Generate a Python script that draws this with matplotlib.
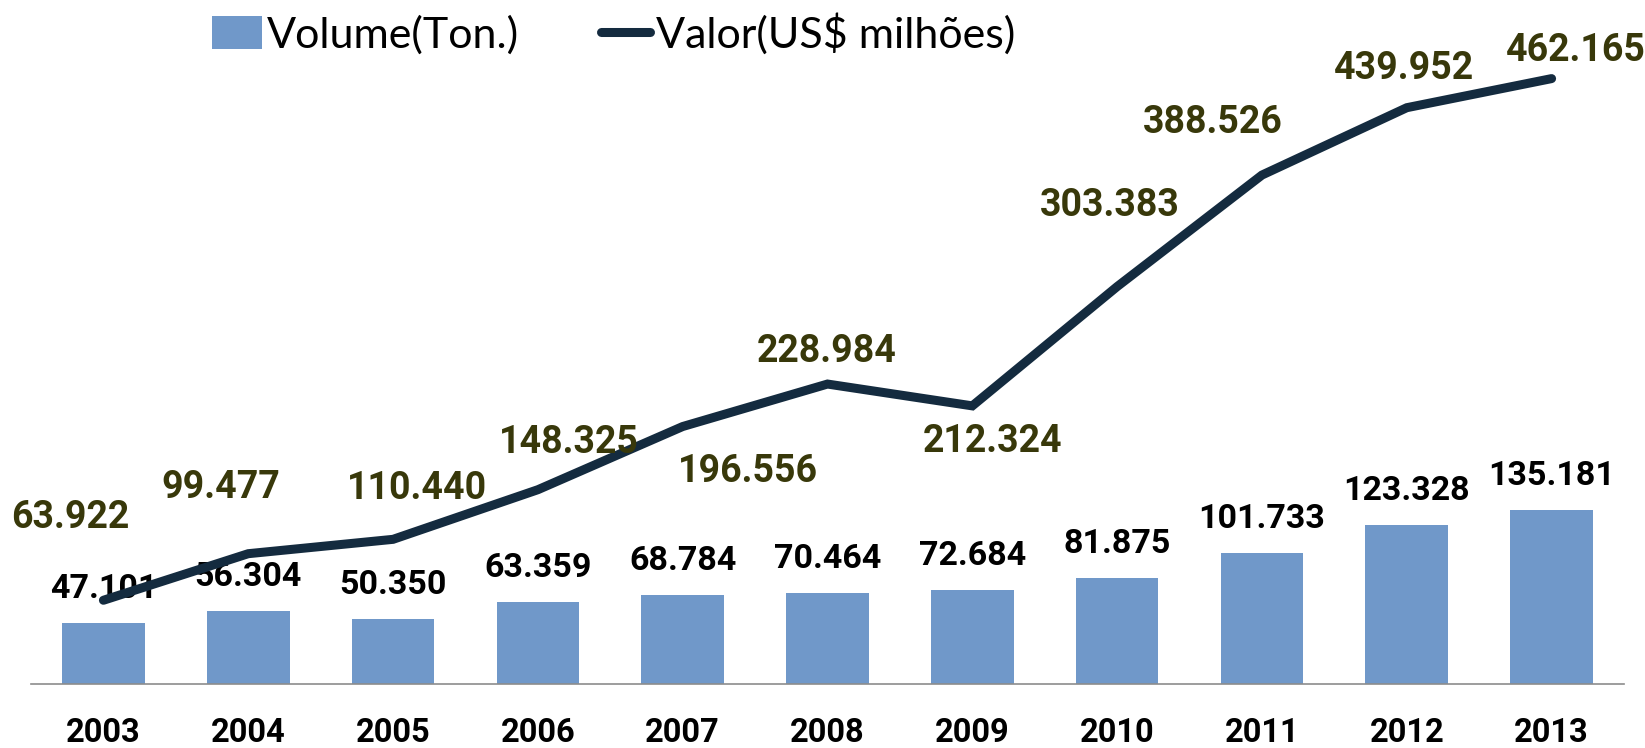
import matplotlib
matplotlib.use("Agg")
import matplotlib.pyplot as plt
from matplotlib.lines import Line2D
from matplotlib.patches import Patch

years = ["2003", "2004", "2005", "2006", "2007", "2008", "2009", "2010", "2011", "2012", "2013"]
volume = [47101, 56304, 50350, 63359, 68784, 70464, 72684, 81875, 101733, 123328, 135181]
volume_labels = ["47.101", "56.304", "50.350", "63.359", "68.784", "70.464", "72.684", "81.875", "101.733", "123.328", "135.181"]
valor = [63.922, 99.477, 110.440, 148.325, 196.556, 228.984, 212.324, 303.383, 388.526, 439.952, 462.165]
valor_labels = ["63.922", "99.477", "110.440", "148.325", "196.556", "228.984", "212.324", "303.383", "388.526", "439.952", "462.165"]
# label offsets (pixels) relative to each line point, as placed in the original
valor_dx = [-32, -26, 23, 30, 62, -1, 19, -7, -47, -3, 23]
valor_dy = [79, 63, 48, 45, -43, 31, -34, 77, 50, 37, 27]

bar_color = "#7098C9"
line_color = "#142B3F"
label_olive = "#38380A"
FONT = ["Lato", "DejaVu Sans"]
BOLD = ["Roboto", "DejaVu Sans"]
plt.rcParams["font.family"] = FONT

fig = plt.figure(figsize=(16.45, 7.48), dpi=100)
ax = fig.add_axes([31 / 1645, 1 - 684 / 748, 1593 / 1645, (684 - 50) / 748])
ax2 = ax.twinx()

x = list(range(len(years)))
bars = ax.bar(x, volume, width=0.57, color=bar_color, zorder=2)
ax.set_xlim(-0.5, len(years) - 0.5)
ax.set_ylim(0, 492000)
ax2.set_ylim(0, 484)

for s in ["top", "right", "left"]:
    ax.spines[s].set_visible(False)
    ax2.spines[s].set_visible(False)
ax2.spines["bottom"].set_visible(False)
ax.spines["bottom"].set_color("#8C8C8C")
ax.spines["bottom"].set_linewidth(1.2)
ax.set_yticks([])
ax2.set_yticks([])
ax.set_xticks(x)
ax.set_xticklabels(years, fontsize=23.5, fontweight="bold", family=BOLD)
ax.tick_params(axis="x", length=0, pad=24)

for xi, v, lab in zip(x, volume, volume_labels):
    ax.annotate(lab, (xi, v), xytext=(0, 34), textcoords="offset pixels",
                ha="center", va="center", fontsize=24.5, fontweight="bold", family=BOLD,
                color="black", zorder=5)

ax2.plot(x, valor, color=line_color, linewidth=6.5, solid_capstyle="round",
         solid_joinstyle="miter", zorder=3)
for xi, v, lab, dx, dy in zip(x, valor, valor_labels, valor_dx, valor_dy):
    ax2.annotate(lab, (xi, v), xytext=(dx * 1.049, dy * 1.049), textcoords="offset pixels",
                 ha="center", va="center", fontsize=27, fontweight="bold", family=BOLD,
                 color=label_olive, zorder=5)

handles = [Patch(facecolor=bar_color, edgecolor="none"),
           Line2D([0], [0], color=line_color, linewidth=6.5, solid_capstyle="round")]
fig.legend(handles, ["Volume(Ton.)", "Valor(US$ milhões)"], loc="center",
           bbox_to_anchor=(0.373, 0.955), ncol=2, frameon=False, fontsize=31,
           handlelength=1.15, handletextpad=0.12, columnspacing=1.9, handleheight=0.8)

fig.savefig("out.png", dpi=100)
